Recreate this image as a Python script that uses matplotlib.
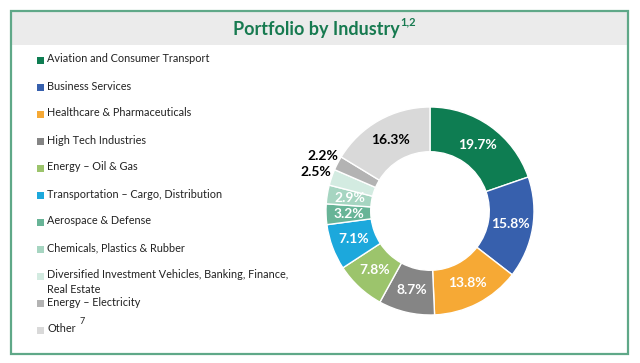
import matplotlib.pyplot as plt
import numpy as np
from matplotlib.patches import Rectangle

plt.rcParams['font.family'] = ['Lato', 'DejaVu Sans']

industries = [
    "Aviation and Consumer Transport",
    "Business Services",
    "Healthcare & Pharmaceuticals",
    "High Tech Industries",
    "Energy – Oil & Gas",
    "Transportation – Cargo, Distribution",
    "Aerospace & Defense",
    "Chemicals, Plastics & Rubber",
    "Diversified Investment Vehicles, Banking, Finance,\nReal Estate",
    "Energy – Electricity",
    "Other",
]
shares = [19.7, 15.8, 13.8, 8.7, 7.8, 7.1, 3.2, 2.9, 2.5, 2.2, 16.3]
colors = ["#0e7d52", "#3760ad", "#f6a935", "#858585", "#9cc46c", "#1ca8dc",
          "#68b497", "#a6d5c1", "#d3ebe1", "#b3b3b3", "#d9d9d9"]
label_colors = ["white"] * 8 + ["black", "black", "black"]
outside = [False] * 8 + [True, True, False]

W, H = 640, 363
fig = plt.figure(figsize=(W / 100, H / 100), dpi=100)
bg = fig.add_axes([0, 0, 1, 1])
bg.set_xlim(0, W)
bg.set_ylim(H, 0)
bg.axis("off")

green = "#177a50"
# frame and title band
bg.add_patch(Rectangle((12, 12), 615, 33, facecolor="#ebebeb", edgecolor="none"))
bg.add_patch(Rectangle((11, 11), 617, 343, facecolor="none", edgecolor="#5fa888", lw=1.6))
title = bg.text(316, 29, "Portfolio by Industry", ha="center", va="center",
                fontsize=13, fontweight="bold", color=green)

# legend
entries = []
for i, (name, c) in enumerate(zip(industries, colors)):
    y = 60 + 27 * i
    bg.add_patch(Rectangle((37, y - 3.5), 7, 7, facecolor=c, edgecolor="none"))
    t = bg.text(47, y - 6.5, name, ha="left", va="top", fontsize=7.8,
                color="#222222", linespacing=1.35)
    entries.append(t)

# superscripts placed right after their texts
fig.canvas.draw()
inv = bg.transData.inverted()
bb = inv.transform(title.get_window_extent().get_points())
bg.text(bb[:, 0].max() + 1, 22, "1,2", ha="left", va="center", fontsize=8,
        fontweight="bold", color=green)
bb = inv.transform(entries[-1].get_window_extent().get_points())
bg.text(bb[:, 0].max() + 4, 322, "7", ha="left", va="center", fontsize=6.5, color="#222222")

# donut
cx, cy, r = 430, 211, 104
ax = fig.add_axes([(cx - r) / W, (H - cy - r) / H, 2 * r / W, 2 * r / H])
wedges, _ = ax.pie(shares, colors=colors, startangle=90, counterclock=False,
                   radius=1, wedgeprops=dict(width=0.43, edgecolor="white", linewidth=1))
ax.set_xlim(-1, 1)
ax.set_ylim(-1, 1)
ax.set_aspect("equal")
ax.axis("off")

for w, v, lc, out in zip(wedges, shares, label_colors, outside):
    ang = np.deg2rad((w.theta1 + w.theta2) / 2)
    rad = 1.16 if out else 0.78
    ax.text(rad * np.cos(ang), rad * np.sin(ang), f"{v}%", ha="center", va="center",
            fontsize=10, fontweight="bold", color=lc, clip_on=False)

fig.savefig("out.png", dpi=100)
